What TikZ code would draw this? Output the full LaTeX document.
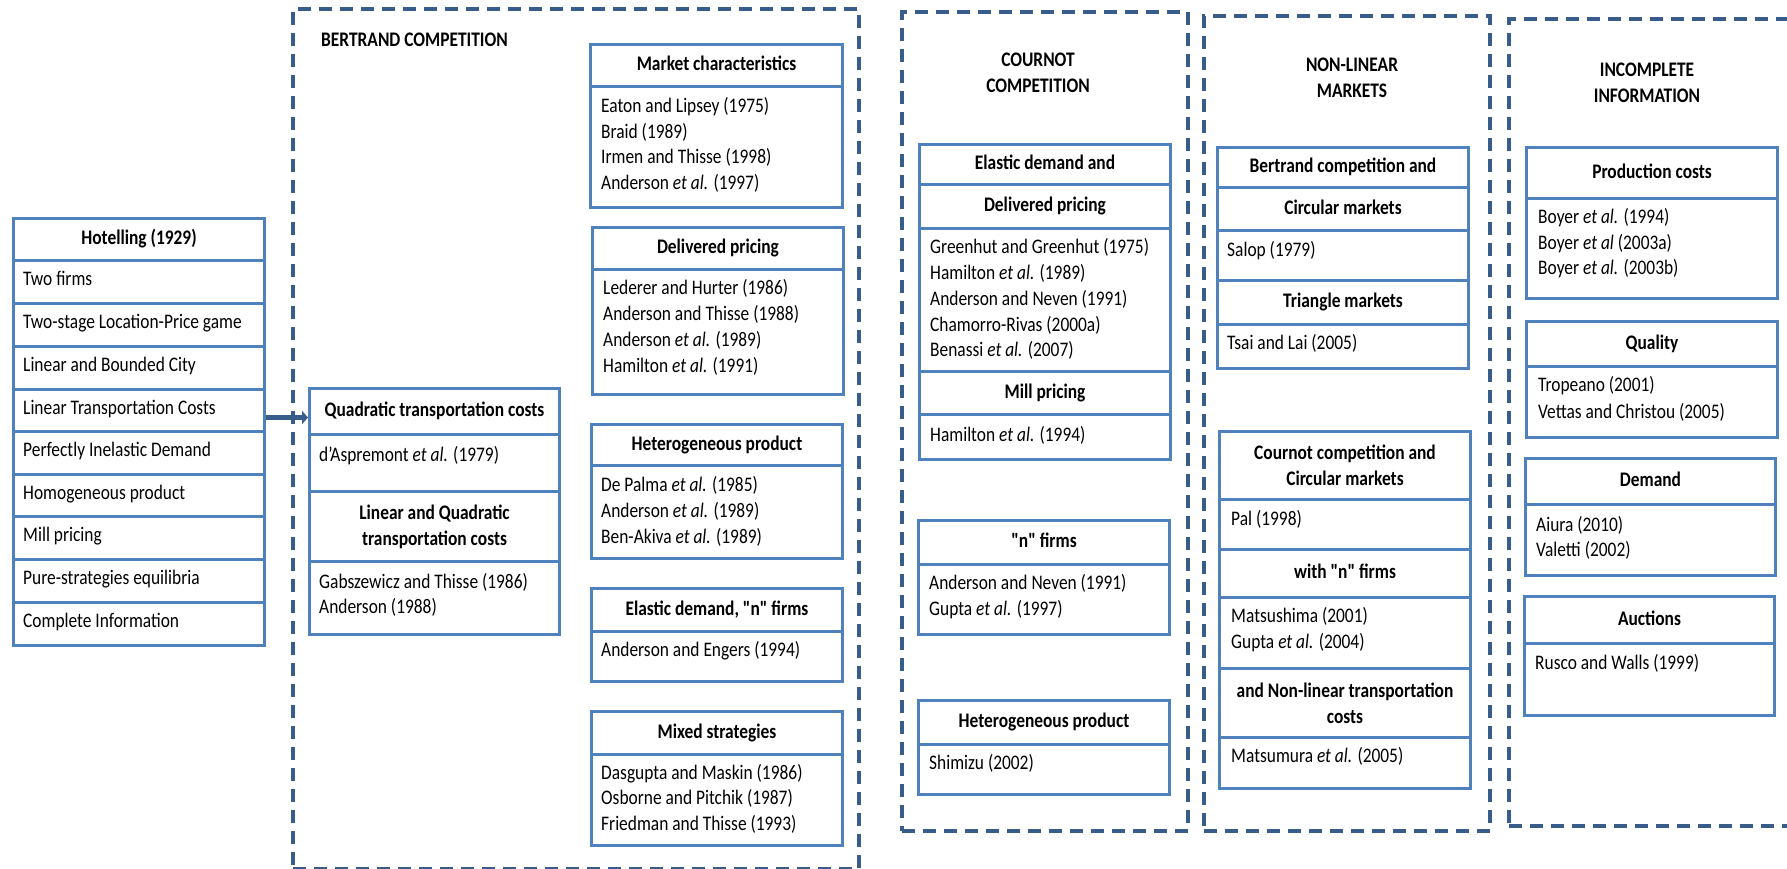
\documentclass[tikz,border=0pt]{standalone}
\usepackage{fontspec}
\setmainfont{Carlito}[FakeStretch=0.84, Ligatures=TeXOff]
\usetikzlibrary{arrows.meta,calc}
\definecolor{cellblue}{HTML}{4F81BD}
\definecolor{dashblue}{HTML}{385D8A}
\newcommand\fsz{\fontsize{20.7}{25.7}\selectfont}
\newcommand{\mkcell}[7]{\node[#1, minimum width={(#5)-(#3)}, minimum height={(#6)-(#4)}, anchor=north west] (#2) at (#3,#4) {#7};}
\tikzset{
 cell/.style={draw=cellblue, line width=3pt, inner sep=0pt, font=\fsz},
 hdr/.style={cell, font=\bfseries\fsz, text height=14.5pt, text depth=4.1pt},
 hdrtwo/.style={cell, font=\bfseries\fsz, align=center},
 txt/.style={anchor=base west, inner sep=0pt, yshift=-6.3pt, font=\fsz},
 itxt/.style={anchor=base west, inner sep=0pt, yshift=-5.2pt, font=\fsz},
 group/.style={draw=dashblue, line width=4pt, dash pattern=on 13pt off 8pt, inner sep=0pt},
 title/.style={font=\bfseries\fsz, align=center, inner sep=0pt},
 arr/.style={draw=dashblue, line width=5.5pt, -{Triangle[length=6pt,width=13pt]}},
}
\begin{document}
\begin{tikzpicture}[x=1pt,y=-1pt]
\useasboundingbox (0,0) rectangle (1787,869);
\fill[white] (0,0) rectangle (1787,869);
\clip (0,0) rectangle (1787,869);

% groups
\mkcell{group}{bert}{291}{7}{857}{867}{}
\mkcell{group}{cour}{900}{10}{1186}{829}{}
\mkcell{group}{nonl}{1202}{14}{1488}{829}{}
\mkcell{group}{inco}{1507}{17}{1800}{824}{}

\node[title, anchor=base west] (bertt) at (321,46.7) {BERTRAND COMPETITION};
\node[title] (court) at (1038,72.5) {COURNOT\\COMPETITION};
\node[title] (nonlt) at (1352,77.5) {NON-LINEAR\\MARKETS};
\node[title] (incot) at (1647,82.5) {INCOMPLETE\\INFORMATION};

% Hotelling
\mkcell{hdr}{hoth}{12}{217}{263}{259}{Hotelling (1929)}
\mkcell{cell}{hot1}{12}{259}{263}{302}{}
\mkcell{cell}{hot2}{12}{302}{263}{345}{}
\mkcell{cell}{hot3}{12}{345}{263}{388}{}
\mkcell{cell}{hot4}{12}{388}{263}{430}{}
\mkcell{cell}{hot5}{12}{430}{263}{473}{}
\mkcell{cell}{hot6}{12}{473}{263}{515}{}
\mkcell{cell}{hot7}{12}{515}{263}{558}{}
\mkcell{cell}{hot8}{12}{558}{263}{601}{}
\mkcell{cell}{hot9}{12}{601}{263}{644}{}
\node[itxt] (ht1) at (23,280.5) {Two firms};
\node[itxt] (ht2) at (23,323.5) {Two-stage Location-Price game};
\node[itxt] (ht3) at (23,366.5) {Linear and Bounded City};
\node[itxt] (ht4) at (23,409) {Linear Transportation Costs};
\node[itxt] (ht5) at (23,451.5) {Perfectly Inelastic Demand};
\node[itxt] (ht6) at (23,494) {Homogeneous product};
\node[itxt] (ht7) at (23,536.5) {Mill pricing};
\node[itxt] (ht8) at (23,579.5) {Pure-strategies equilibria};
\node[itxt] (ht9) at (23,622.5) {Complete Information};

% Bertrand: quadratic
\mkcell{hdr}{quadh}{308}{387}{558}{433}{Quadratic transportation costs}
\mkcell{cell}{quadl}{308}{433}{558}{490}{}
\node[txt] (q1) at (319,455) {d’Aspremont \textit{et al.} (1979)};
\mkcell{hdrtwo}{linqh}{308}{490}{558}{560}{Linear and Quadratic\\transportation costs}
\mkcell{cell}{linql}{308}{560}{558}{633}{}
\node[txt] (lq1) at (319,582) {Gabszewicz and Thisse (1986)};
\node[txt] (lq2) at (319,607) {Anderson (1988)};

% Bertrand: right column
\mkcell{hdr}{mch}{589}{43}{841}{85}{Market characteristics}
\mkcell{cell}{mcl}{589}{85}{841}{206}{}
\node[txt] (mc1) at (601,106) {Eaton and Lipsey (1975)};
\node[txt] (mc2) at (601,132) {Braid (1989)};
\node[txt] (mc3) at (601,157) {Irmen and Thisse (1998)};
\node[txt] (mc4) at (601,183) {Anderson \textit{et al.} (1997)};

\mkcell{hdr}{dph}{591}{226}{842}{268}{Delivered pricing}
\mkcell{cell}{dpl}{591}{268}{842}{393}{}
\node[txt] (dp1) at (603,288) {Lederer and Hurter (1986)};
\node[txt] (dp2) at (603,314) {Anderson and Thisse (1988)};
\node[txt] (dp3) at (603,340) {Anderson \textit{et al.} (1989)};
\node[txt] (dp4) at (603,366) {Hamilton \textit{et al.} (1991)};

\mkcell{hdr}{hph}{590}{423}{841}{464}{Heterogeneous product}
\mkcell{cell}{hpl}{590}{464}{841}{557}{}
\node[txt] (hp1) at (601,485) {De Palma \textit{et al.} (1985)};
\node[txt] (hp2) at (601,511) {Anderson \textit{et al.} (1989)};
\node[txt] (hp3) at (601,537) {Ben-Akiva \textit{et al.} (1989)};

\mkcell{hdr}{edh}{590}{587}{841}{630}{Elastic demand, "n" firms}
\mkcell{cell}{edl}{590}{630}{841}{680}{}
\node[txt] (ed1) at (601,650) {Anderson and Engers (1994)};

\mkcell{hdr}{msh}{590}{710}{841}{753}{Mixed strategies}
\mkcell{cell}{msl}{590}{753}{841}{844}{}
\node[txt] (ms1) at (601,773) {Dasgupta and Maskin (1986)};
\node[txt] (ms2) at (601,798) {Osborne and Pitchik (1987)};
\node[txt] (ms3) at (601,824) {Friedman and Thisse (1993)};

% Cournot
\mkcell{hdr}{ceh}{918}{143}{1169}{183}{Elastic demand and}
\mkcell{hdr}{cdh}{918}{183}{1169}{227}{Delivered pricing}
\mkcell{cell}{cdl}{918}{227}{1169}{370}{}
\node[txt] (cd1) at (930,247) {Greenhut and Greenhut (1975)};
\node[txt] (cd2) at (930,273) {Hamilton \textit{et al.} (1989)};
\node[txt] (cd3) at (930,299) {Anderson and Neven (1991)};
\node[txt] (cd4) at (930,325) {Chamorro-Rivas (2000a)};
\node[txt] (cd5) at (930,350) {Benassi \textit{et al.} (2007)};
\mkcell{hdr}{cmh}{918}{370}{1169}{413}{Mill pricing}
\mkcell{cell}{cml}{918}{413}{1169}{458}{}
\node[txt] (cm1) at (930,435) {Hamilton \textit{et al.} (1994)};

\mkcell{hdr}{cnh}{917}{519}{1168}{563}{"n" firms}
\mkcell{cell}{cnl}{917}{563}{1168}{633}{}
\node[txt] (cn1) at (929,583) {Anderson and Neven (1991)};
\node[txt] (cn2) at (929,609) {Gupta \textit{et al.} (1997)};

\mkcell{hdr}{chh}{917}{699}{1168}{743}{Heterogeneous product}
\mkcell{cell}{chl}{917}{743}{1168}{793}{}
\node[txt] (ch1) at (929,763) {Shimizu (2002)};

% Non-linear markets
\mkcell{hdr}{nbh}{1216}{146}{1467}{186}{Bertrand competition and}
\mkcell{hdr}{nch}{1216}{186}{1467}{229}{Circular markets}
\mkcell{cell}{ncl}{1216}{229}{1467}{279}{}
\node[txt] (nc1) at (1227,250) {Salop (1979)};
\mkcell{hdr}{nth}{1216}{279}{1467}{323}{Triangle markets}
\mkcell{cell}{ntl}{1216}{323}{1467}{367}{}
\node[txt] (nt1) at (1227,343) {Tsai and Lai (2005)};

\mkcell{hdrtwo}{nkh}{1218}{430}{1469}{498}{Cournot competition and\\Circular markets}
\mkcell{cell}{nkl}{1218}{498}{1469}{548}{}
\node[txt] (nk1) at (1231,519) {Pal (1998)};
\mkcell{hdr}{nwh}{1218}{548}{1469}{596}{with "n" firms}
\mkcell{cell}{nwl}{1218}{596}{1469}{667}{}
\node[txt] (nw1) at (1231,616) {Matsushima (2001)};
\node[txt] (nw2) at (1231,642) {Gupta \textit{et al.} (2004)};
\mkcell{hdrtwo}{nnh}{1218}{667}{1469}{736}{and Non-linear transportation\\costs}
\mkcell{cell}{nnl}{1218}{736}{1469}{787}{}
\node[txt] (nn1) at (1231,756) {Matsumura \textit{et al.} (2005)};

% Incomplete information
\mkcell{hdr}{iph}{1525}{146}{1776}{197}{Production costs}
\mkcell{cell}{ipl}{1525}{197}{1776}{297}{}
\node[txt] (ip1) at (1538,217) {Boyer \textit{et al.} (1994)};
\node[txt] (ip2) at (1538,243) {Boyer \textit{et al} (2003a)};
\node[txt] (ip3) at (1538,268) {Boyer \textit{et al.} (2003b)};

\mkcell{hdr}{iqh}{1525}{320}{1776}{365}{Quality}
\mkcell{cell}{iql}{1525}{365}{1776}{436}{}
\node[txt] (iq1) at (1538,385) {Tropeano (2001)};
\node[txt] (iq2) at (1538,412) {Vettas and Christou (2005)};

\mkcell{hdr}{idh}{1524}{457}{1774}{503}{Demand}
\mkcell{cell}{idl}{1524}{503}{1774}{574}{}
\node[txt] (id1) at (1536,525) {Aiura (2010)};
\node[txt] (id2) at (1536,550) {Valetti (2002)};

\mkcell{hdr}{iah}{1523}{595}{1773}{642}{Auctions}
\mkcell{cell}{ial}{1523}{642}{1773}{714}{}
\node[txt] (ia1) at (1535,663) {Rusco and Walls (1999)};

% connector
\draw[arr] ($(quadh.west -| hoth.east)+(0,6)$) -- ($(quadh.west)+(0,6)$);
\end{tikzpicture}
\end{document}
